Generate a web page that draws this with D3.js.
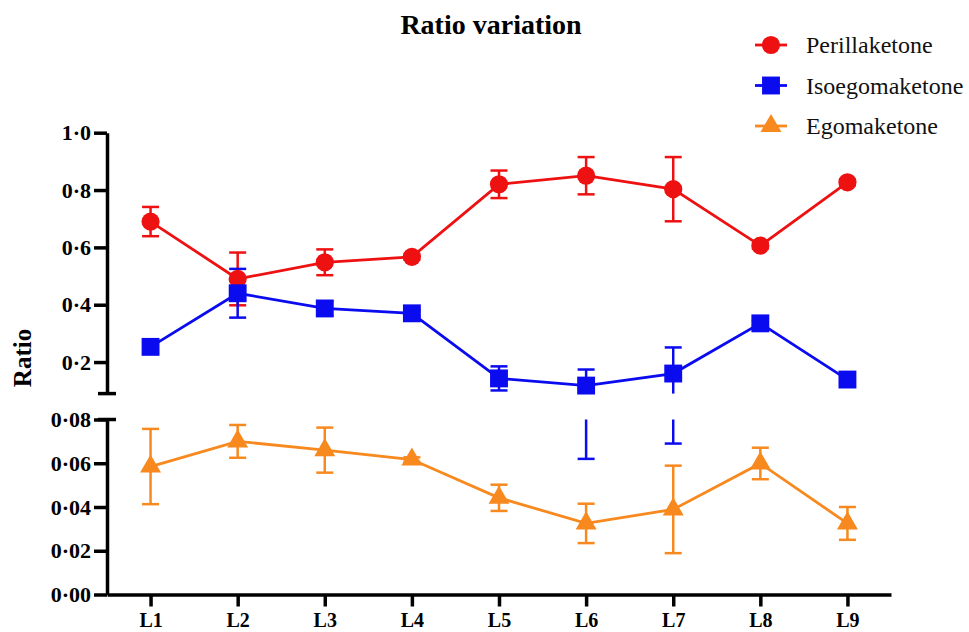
<!DOCTYPE html>
<html>
<head>
<meta charset="utf-8">
<script src="https://cdn.jsdelivr.net/npm/d3@7"></script>
<style>
  body { margin: 0; background: #fff; }
  svg { display: block; }
  svg text { font-family: "Liberation Serif", "Times New Roman", "DejaVu Serif", serif !important; }
</style>
</head>
<body>
<svg id="chart" width="969" height="632"></svg>
<script>
const categories = ["L1", "L2", "L3", "L4", "L5", "L6", "L7", "L8", "L9"];

const perillaketone = [0.690, 0.490, 0.548, 0.567, 0.820, 0.850, 0.803, 0.606, 0.827];
const perillaketoneErr = [0.051, 0.092, 0.045, 0.010, 0.048, 0.065, 0.112, 0.010, 0.010];

const isoegomaketone = [0.253, 0.440, 0.387, 0.370, 0.143, 0.118, 0.160, 0.335, 0.139];
const isoegomaketoneErr = [0.020, 0.085, 0.025, 0.010, 0.042, 0.056, 0.091, 0.010, 0.010];

const egomaketone = [0.0585, 0.0700, 0.0660, 0.0617, 0.0442, 0.0325, 0.0389, 0.0599, 0.0325];
const egomaketoneErr = [0.0172, 0.0075, 0.0103, 0.0010, 0.0060, 0.0090, 0.0200, 0.0072, 0.0075];

const upperTicks = [0.2, 0.4, 0.6, 0.8, 1.0];
const lowerTicks = [0, 0.02, 0.04, 0.06, 0.08];

const svg = d3.select("#chart");

// scales: broken y axis, two panels
const x = d3.scalePoint()
    .domain(categories)
    .range([107, 891])
    .padding(0.5);

const yUpper = d3.scaleLinear().domain([0.09, 1.0]).range([393.6, 132.7]);
const yLower = d3.scaleLinear().domain([0, 0.08]).range([594.5, 419.5]);

const panels = [
    { y: yUpper, lo: 0.09, hi: 1.0 },
    { y: yLower, lo: 0, hi: 0.08 }
];

const series = [
    { name: "Perillaketone", values: perillaketone, err: perillaketoneErr, color: "#ee1111", symbol: d3.symbolCircle, size: 260, y: yUpper },
    { name: "Isoegomaketone", values: isoegomaketone, err: isoegomaketoneErr, color: "#0b0bf0", symbol: d3.symbolSquare, size: 320, y: yUpper },
    { name: "Egomaketone", values: egomaketone, err: egomaketoneErr, color: "#f7891e", symbol: d3.symbolTriangle, size: 190, y: yLower }
];

const dot = s => s.replace(".", "·");

// axes
const upperAxis = svg.append("g")
    .attr("transform", "translate(107,0)")
    .call(d3.axisLeft(yUpper).tickValues(upperTicks).tickSize(13).tickSizeOuter(0)
        .tickFormat(d => dot(d3.format(".1f")(d))));

const lowerAxis = svg.append("g")
    .attr("transform", "translate(107,0)")
    .call(d3.axisLeft(yLower).tickValues(lowerTicks).tickSize(13).tickSizeOuter(0)
        .tickFormat(d => dot(d3.format(".2f")(d))));

const xAxis = svg.append("g")
    .attr("transform", "translate(0,594.5)")
    .call(d3.axisBottom(x).tickSize(12).tickSizeOuter(0));

[upperAxis, lowerAxis, xAxis].forEach(g => {
    g.attr("font-family", null);
    g.select(".domain").attr("stroke", "#000").attr("stroke-width", 3.5);
    g.selectAll(".tick line").attr("stroke", "#000").attr("stroke-width", 3.5);
    g.selectAll(".tick text")
        .attr("fill", "#000")
        .attr("font-weight", "bold");
});
upperAxis.selectAll(".tick text").attr("font-size", 22).attr("x", -16);
lowerAxis.selectAll(".tick text").attr("font-size", 22).attr("x", -16);
xAxis.selectAll(".tick text").attr("font-size", 20).attr("dy", 0).attr("y", 32);

// break caps
[yUpper(0.09), yLower(0.08)].forEach(yy => {
    svg.append("line")
        .attr("x1", 98).attr("x2", 116)
        .attr("y1", yy).attr("y2", yy)
        .attr("stroke", "#000").attr("stroke-width", 3.5);
});

// title & axis label
svg.append("text")
    .attr("x", 491).attr("y", 34)
    .attr("text-anchor", "middle")
    .attr("font-size", 28).attr("font-weight", "bold")
    .text("Ratio variation");

svg.append("text")
    .attr("transform", "translate(31,358) rotate(-90)")
    .attr("text-anchor", "middle")
    .attr("font-size", 25).attr("font-weight", "bold")
    .text("Ratio");

// error bars, clipped to each panel
const capW = 17;
series.forEach(s => {
    const g = svg.append("g")
        .attr("stroke", s.color).attr("stroke-width", 2.5).attr("fill", "none");
    s.values.forEach((v, i) => {
        const lo = v - s.err[i], hi = v + s.err[i];
        const cx = x(categories[i]);
        panels.forEach(p => {
            const a = Math.max(lo, p.lo), b = Math.min(hi, p.hi);
            if (a >= b) return;
            g.append("line").attr("x1", cx).attr("x2", cx).attr("y1", p.y(a)).attr("y2", p.y(b));
            [lo, hi].forEach(e => {
                if (e >= p.lo && e <= p.hi) {
                    g.append("line")
                        .attr("x1", cx - capW / 2).attr("x2", cx + capW / 2)
                        .attr("y1", p.y(e)).attr("y2", p.y(e));
                }
            });
        });
    });
});

// lines and markers
series.forEach(s => {
    const pts = s.values.map((v, i) => [x(categories[i]), s.y(v)]);
    svg.append("path")
        .attr("d", d3.line()(pts))
        .attr("fill", "none")
        .attr("stroke", s.color)
        .attr("stroke-width", 2.8);
    svg.append("g").selectAll("path")
        .data(pts)
        .join("path")
        .attr("transform", d => `translate(${d[0]},${d[1]})`)
        .attr("d", d3.symbol(s.symbol, s.size))
        .attr("fill", s.color);
});

// legend
const legend = svg.append("g");
series.forEach((s, i) => {
    const ly = 45 + i * 40.5;
    legend.append("line")
        .attr("x1", 755).attr("x2", 787)
        .attr("y1", ly).attr("y2", ly)
        .attr("stroke", s.color).attr("stroke-width", 2.8);
    legend.append("path")
        .attr("transform", `translate(771,${ly})`)
        .attr("d", d3.symbol(s.symbol, s.size))
        .attr("fill", s.color);
    legend.append("text")
        .attr("x", 806).attr("y", ly + 8)
        .attr("font-size", 24)
        .attr("fill", "#111")
        .text(s.name);
});
</script>
</body>
</html>
